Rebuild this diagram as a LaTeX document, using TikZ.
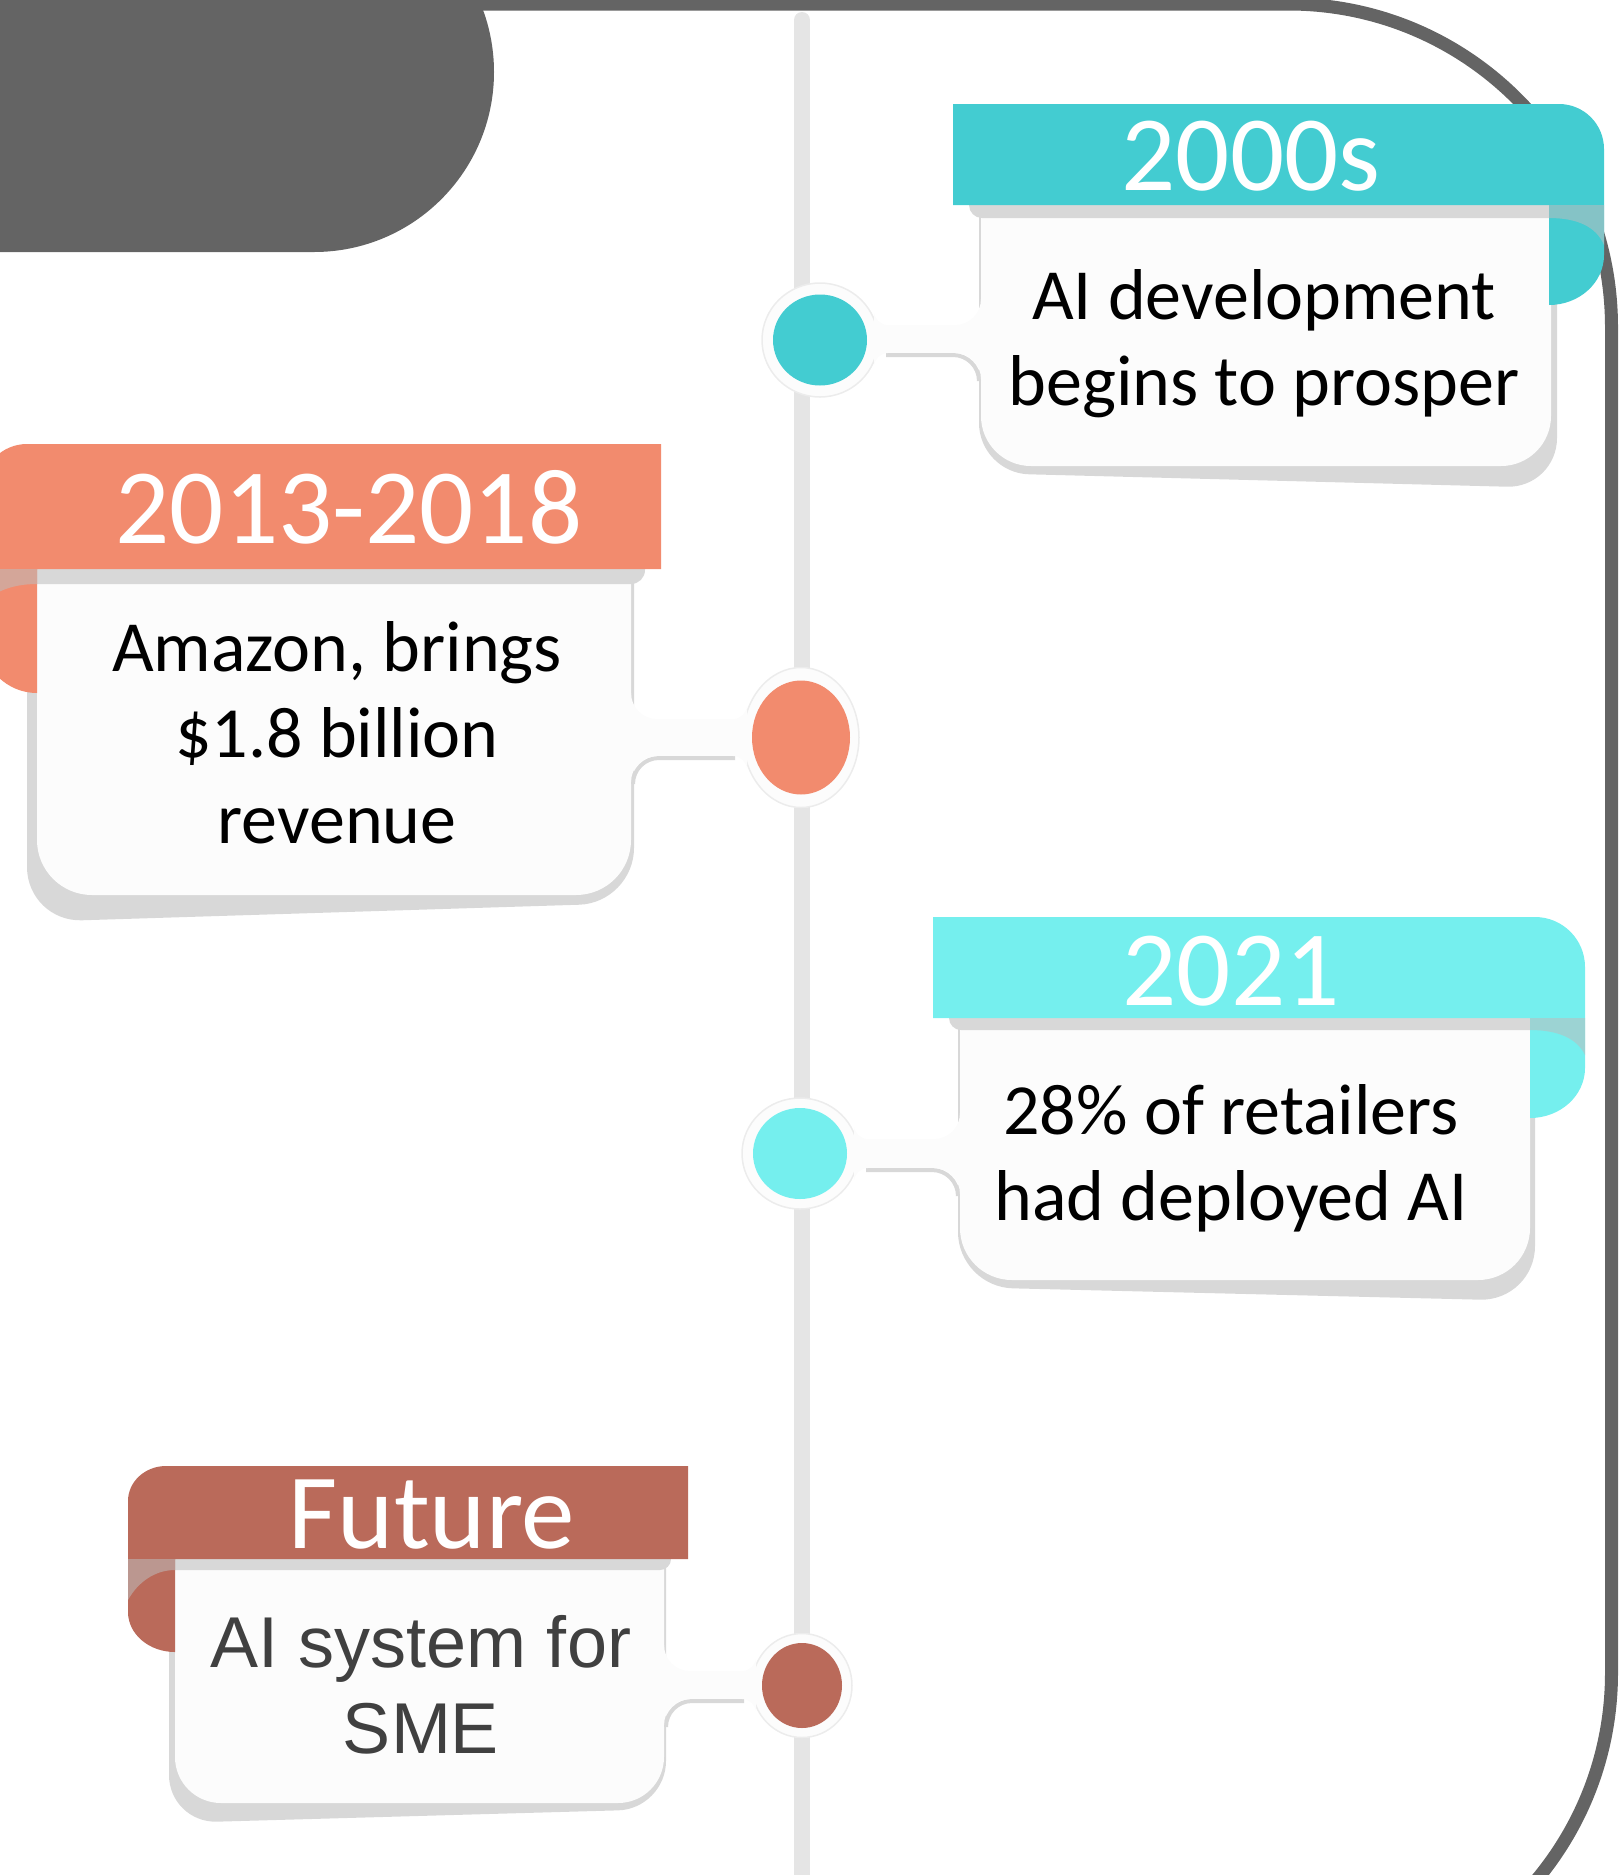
\documentclass[tikz,border=0pt]{standalone}
\usepackage{fontspec}
\setmainfont{Carlito}
\newfontfamily\smefont{Liberation Sans}
\usetikzlibrary{shapes.geometric}

\definecolor{framegray}{HTML}{646464}
\definecolor{linegray}{HTML}{E5E5E5}
\definecolor{shadegray}{HTML}{D8D8D8}
\definecolor{foldgray}{HTML}{BDBDBD}
\definecolor{paper}{HTML}{FCFCFC}
\definecolor{haloedge}{HTML}{ECECEC}
\definecolor{cTeal}{HTML}{43CCD1}
\definecolor{cCoral}{HTML}{F28B6E}
\definecolor{cAqua}{HTML}{75EFEE}
\definecolor{cBrick}{HTML}{BA6A5A}
\definecolor{smegray}{HTML}{404040}

\tikzset{
  yearlabel/.style={text=white, font=\fontsize{107}{107}\selectfont, inner sep=0pt, anchor=base},
  bodytext/.style={text=black, font=\fontsize{72}{86}\selectfont, align=center, inner sep=0pt, anchor=base},
  smetext/.style={text=smegray, font=\smefont\fontsize{72}{86}\selectfont, align=center, inner sep=0pt, anchor=base},
  dotshape/.style={ellipse, inner sep=0pt, draw=none},
  halo/.style={fill=paper, draw=haloedge, line width=1.5pt},
  fold/.style={fill=foldgray, opacity=0.55},
}

% concave fillet at corner (#1,#2); legs along (#3,#4) and (#5,#6); radius #7
\newcommand{\fillet}[7]{%
  \fill[paper] ({#1},{#2}) -- ({#1+(#7)*(#5)},{#2+(#7)*(#6)})
    .. controls ({#1+0.448*(#7)*(#5)},{#2+0.448*(#7)*(#6)})
    and ({#1+0.448*(#7)*(#3)},{#2+0.448*(#7)*(#4)})
    .. ({#1+(#7)*(#3)},{#2+(#7)*(#4)}) -- cycle;}

% neck between a dot halo and its card:
% #1 cx, #2 cy, #3 half height, #4 halo junction x, #5 card edge x, #6 side (+1 card right, -1 card left)
\newcommand{\neck}[6]{%
  \draw[shadegray, line width=4pt]
    ({#4+(#6)*12},{#2+#3+2}) -- ({#5-(#6)*28},{#2+#3+2})
    .. controls ({#5-(#6)*13.6},{#2+#3+2}) and ({#5-(#6)*2},{#2+#3+13.6})
    .. ({#5-(#6)*2},{#2+#3+28});
  \fill[paper] ({#4},{#2-#3}) rectangle ({#5+(#6)*6},{#2+#3});
  \fillet{#5}{#2-#3}{-1*(#6)}{0}{0}{-1}{26}
  \fillet{#5}{#2+#3}{-1*(#6)}{0}{0}{1}{26}
  \fillet{#4}{#2-#3}{#6}{0}{0}{-1}{14}
  \fillet{#4}{#2+#3}{#6}{0}{0}{1}{14}
}

% card body: square top, rounded bottom corners
\newcommand{\cardbody}[5]{%
  \fill[paper] (#1,#2) -- (#3,#2) -- (#3,{#4-#5})
    arc[start angle=0,end angle=-90,radius=#5pt] -- ({#1+#5},#4)
    arc[start angle=270,end angle=180,radius=#5pt] -- cycle;}

\begin{document}
\begin{tikzpicture}[x=1pt,y=-1pt]
\useasboundingbox (0,0) rectangle (1618,1875);
\clip (0,0) rectangle (1618,1875);

% outer frame and corner blob
\draw[framegray, line width=13pt] (400,4) -- (1288.5,4)
  arc[start angle=90,end angle=0,radius=323pt] -- (1611.5,1673)
  arc[start angle=0,end angle=-90,radius=323pt] -- (1200,1996);
\fill[framegray] (-20,-108) -- (314,-108) arc[start angle=90,end angle=-90,radius=180pt] -- (-20,252) -- cycle;

% timeline
\draw[linegray, line width=16pt, line cap=round] (802,20) -- (802,1900);

% ---------- 2000s ----------
\fill[shadegray, rounded corners=50pt] (979,104) -- (1557,104) -- (1557,488) -- (979,473) -- cycle;
\cardbody{981}{205}{1551}{466}{50}
\fill[shadegray] (1551,205) -- (1551,218) -- (982,218) arc[start angle=270,end angle=180,radius=13pt] -- cycle;
\fill[halo] (820,340) circle[x radius=58pt, y radius=57pt];
\neck{820}{339}{14}{874}{981}{1}
\node[dotshape, fill=cTeal, minimum width=94pt, minimum height=91pt] (dot1) at (820,340) {};
\fill[cTeal] (953,104) -- (1559,104) arc[start angle=90,end angle=0,radius=45pt] -- (1604,255)
  arc[start angle=0,end angle=-90,x radius=55pt,y radius=50pt] -- (1549,205) -- (953,205) -- cycle;
\fill[fold] (1549,205) -- (1604,205) -- (1604,245) .. controls (1596,226) and (1576,218) .. (1549,218) -- cycle;
\node[yearlabel] (y1) at (1251,190) {2000s};
\node[bodytext] (t1) at (1264,405) {AI development\\begins to prosper};

% ---------- 2013-2018 ----------
\fill[shadegray, rounded corners=55pt] (27,444) -- (634,444) -- (634,903) -- (27,922) -- cycle;
\cardbody{37}{569}{631}{895}{55}
\fill[shadegray] (37,569) -- (37,584) -- (631,584) arc[start angle=270,end angle=360,radius=14pt] -- (645,569) -- cycle;
\fill[halo] (801,737.5) circle[x radius=58pt, y radius=70pt];
\neck{801}{737.5}{18.5}{747}{631}{-1}
\node[dotshape, fill=cCoral, minimum width=98pt, minimum height=114pt] (dot2) at (801,737.5) {};
\fill[cCoral] (661,444) -- (27,444) arc[start angle=90,end angle=180,radius=45pt] -- (-18,638)
  arc[start angle=180,end angle=270,radius=55pt] -- (37,569) -- (661,569) -- cycle;
\fill[fold] (37,569) -- (-18,569) -- (-18,605) .. controls (-5,590) and (15,584) .. (37,584) -- cycle;
\node[yearlabel] (y2) at (349,543) {2013-2018};
\node[bodytext] (t2) at (337,843) {Amazon, brings\\\$1.8 billion\\revenue};

% ---------- 2021 ----------
\fill[shadegray, rounded corners=55pt] (958,917) -- (1535,917) -- (1535,1301) -- (958,1287) -- cycle;
\cardbody{960}{1018}{1530}{1280}{52}
\fill[shadegray] (1530,1018) -- (1530,1030) -- (961,1030) arc[start angle=270,end angle=180,radius=12pt] -- cycle;
\fill[halo] (800,1153.5) circle[x radius=58pt, y radius=55.5pt];
\neck{800}{1153.5}{14.5}{854}{960}{1}
\node[dotshape, fill=cAqua, minimum width=94pt, minimum height=91pt] (dot3) at (800,1153.5) {};
\fill[cAqua] (933,917) -- (1535,917) arc[start angle=90,end angle=0,radius=50pt] -- (1585,1068)
  arc[start angle=0,end angle=-90,x radius=55pt,y radius=50pt] -- (1530,1018) -- (933,1018) -- cycle;
\fill[fold] (1530,1018) -- (1585,1018) -- (1585,1055) .. controls (1577,1038) and (1557,1030) .. (1530,1030) -- cycle;
\node[yearlabel] (y3) at (1231,1005) {2021};
\node[bodytext] (t3) at (1231,1220) {28\% of retailers\\had deployed AI};

% ---------- Future ----------
\fill[shadegray, rounded corners=48pt] (169,1466) -- (666,1466) -- (666,1809) -- (169,1823) -- cycle;
\cardbody{175}{1559}{664}{1803}{46}
\fill[shadegray] (175,1559) -- (175,1570) -- (660,1570) arc[start angle=270,end angle=360,radius=11pt] -- cycle;
\fill[halo] (802,1685.5) circle[x radius=50pt, y radius=52pt];
\neck{802}{1685}{14}{756}{664}{-1}
\node[dotshape, fill=cBrick, minimum width=80pt, minimum height=85pt] (dot4) at (802,1685.5) {};
\fill[cBrick] (688,1466) -- (166,1466) arc[start angle=90,end angle=180,x radius=38pt,y radius=35pt] -- (128,1612)
  arc[start angle=180,end angle=270,x radius=47pt,y radius=40pt] -- (175,1559) -- (688,1559) -- cycle;
\fill[fold] (175,1559) -- (128,1559) -- (128,1600) .. controls (138,1582) and (155,1570) .. (175,1570) -- cycle;
\node[yearlabel] (y4) at (432,1548) {Future};
\node[smetext] (t4) at (421,1753) {AI system for\\SME};

\end{tikzpicture}
\end{document}
